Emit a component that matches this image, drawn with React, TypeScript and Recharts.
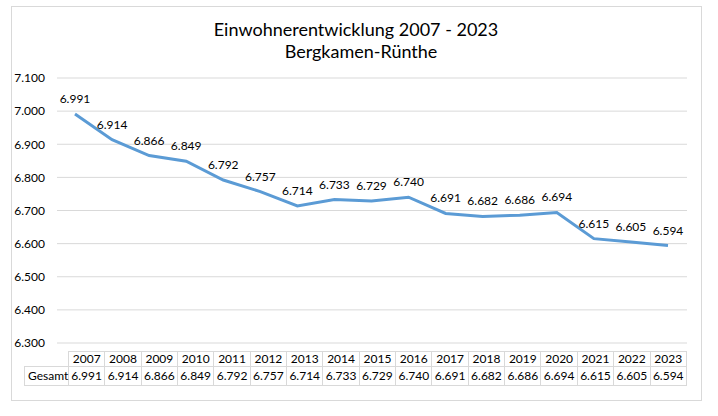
import { LineChart, Line, XAxis, YAxis, CartesianGrid, LabelList } from 'recharts';

const years = ['2007', '2008', '2009', '2010', '2011', '2012', '2013', '2014', '2015', '2016', '2017', '2018', '2019', '2020', '2021', '2022', '2023'];
const einwohner = [6991, 6914, 6866, 6849, 6792, 6757, 6714, 6733, 6729, 6740, 6691, 6682, 6686, 6694, 6615, 6605, 6594];
const yTicks = [6300, 6400, 6500, 6600, 6700, 6800, 6900, 7000, 7100];
const seriesName = 'Gesamt';

const FONT = 'Lato, "Liberation Sans", sans-serif';

// deutsche Tausenderpunkte: 6991 -> 6.991
const fmt = (v: number) => `${Math.floor(v / 1000)}.${String(v % 1000).padStart(3, '0')}`;

const chartData = years.map((y, i) => ({ year: y, value: einwohner[i] }));

function DataTable() {
  const cell: React.CSSProperties = {
    border: '1px solid #d9d9d9',
    padding: 0,
    height: 14,
    lineHeight: '14px',
    textAlign: 'center',
    fontSize: 12,
    color: '#000',
    whiteSpace: 'nowrap',
  };
  return (
    <table
      style={{
        position: 'absolute',
        left: 24,
        top: 351,
        width: 663,
        borderCollapse: 'collapse',
        tableLayout: 'fixed',
        fontFamily: FONT,
      }}
    >
      <colgroup>
        <col style={{ width: 44 }} />
        {years.map((y) => (
          <col key={y} />
        ))}
      </colgroup>
      <tbody>
        <tr>
          <td style={{ ...cell, border: 'none', borderBottom: '1px solid #d9d9d9' }}></td>
          {years.map((y) => (
            <td key={y} style={cell}>{y}</td>
          ))}
        </tr>
        <tr>
          <td style={{ ...cell, height: 18, lineHeight: '18px', textAlign: 'left', paddingLeft: 3 }}>{seriesName}</td>
          {einwohner.map((v, i) => (
            <td key={years[i]} style={{ ...cell, height: 18, lineHeight: '18px' }}>{fmt(v)}</td>
          ))}
        </tr>
      </tbody>
    </table>
  );
}

export default function App() {
  return (
    <div style={{ position: 'absolute', left: 0, top: 0, width: 718, height: 416, background: '#fff', fontFamily: FONT }}>
      <div
        style={{
          position: 'absolute',
          left: 11,
          top: 6,
          width: 691,
          height: 395,
          border: '1px solid #d9d9d9',
          boxSizing: 'border-box',
        }}
      />
      <div style={{ position: 'absolute', left: 0, width: 712, top: 19, textAlign: 'center', fontSize: 18, lineHeight: '20px', color: '#000' }}>
        Einwohnerentwicklung 2007 - 2023
      </div>
      <div style={{ position: 'absolute', left: 0, width: 722, top: 41, textAlign: 'center', fontSize: 18, lineHeight: '20px', color: '#000' }}>
        Bergkamen-Rünthe
      </div>
      <div style={{ position: 'absolute', left: 0, top: 0 }}>
        <LineChart width={718} height={416} data={chartData} margin={{ top: 78, right: 31, bottom: 73, left: 0 }}>
          <CartesianGrid vertical={false} stroke="#d9d9d9" />
          <XAxis dataKey="year" hide padding={{ left: 18, right: 19 }} />
          <YAxis
            width={57}
            domain={[6300, 7100]}
            ticks={yTicks}
            interval={0}
            tickFormatter={fmt}
            axisLine={false}
            tickLine={false}
            tickMargin={6}
            tick={{ fill: '#000', fontSize: 12, fontFamily: FONT }}
          />
          <Line
            type="linear"
            dataKey="value"
            stroke="#5b9bd5"
            strokeWidth={3}
            dot={false}
            isAnimationActive={false}
          >
            <LabelList dataKey="value" position="top" offset={11} formatter={(v: any) => fmt(Number(v))} style={{ fill: '#000', fontSize: 12, fontFamily: FONT }} />
          </Line>
        </LineChart>
      </div>
      <DataTable />
    </div>
  );
}
